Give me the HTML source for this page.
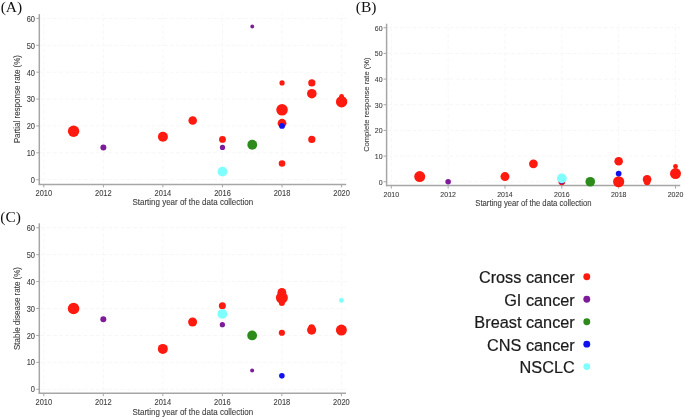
<!DOCTYPE html>
<html><head><meta charset="utf-8"><style>
html,body{margin:0;padding:0;background:#fff;}
body{width:685px;height:418px;overflow:hidden;}
svg{display:block;font-family:"Liberation Sans",sans-serif;filter:blur(0.3px);}
</style></head><body>
<svg width="685" height="418" viewBox="0 0 685 418">
<rect width="685" height="418" fill="#fff"/>
<line x1="40.40" y1="179.70" x2="346.20" y2="179.70" stroke="#f7f7f7" stroke-width="1" stroke-dasharray="4 2.17"/>
<line x1="40.40" y1="152.82" x2="346.20" y2="152.82" stroke="#f7f7f7" stroke-width="1" stroke-dasharray="4 2.17"/>
<line x1="40.40" y1="125.94" x2="346.20" y2="125.94" stroke="#f7f7f7" stroke-width="1" stroke-dasharray="4 2.17"/>
<line x1="40.40" y1="99.06" x2="346.20" y2="99.06" stroke="#f7f7f7" stroke-width="1" stroke-dasharray="4 2.17"/>
<line x1="40.40" y1="72.18" x2="346.20" y2="72.18" stroke="#f7f7f7" stroke-width="1" stroke-dasharray="4 2.17"/>
<line x1="40.40" y1="45.30" x2="346.20" y2="45.30" stroke="#f7f7f7" stroke-width="1" stroke-dasharray="4 2.17"/>
<line x1="40.40" y1="18.42" x2="346.20" y2="18.42" stroke="#f7f7f7" stroke-width="1" stroke-dasharray="4 2.17"/>
<line x1="43.80" y1="14.10" x2="43.80" y2="183.60" stroke="#f7f7f7" stroke-width="1" stroke-dasharray="3.8 2.35" stroke-dashoffset="2.4"/>
<line x1="103.36" y1="14.10" x2="103.36" y2="183.60" stroke="#f7f7f7" stroke-width="1" stroke-dasharray="3.8 2.35" stroke-dashoffset="2.4"/>
<line x1="162.92" y1="14.10" x2="162.92" y2="183.60" stroke="#f7f7f7" stroke-width="1" stroke-dasharray="3.8 2.35" stroke-dashoffset="2.4"/>
<line x1="222.48" y1="14.10" x2="222.48" y2="183.60" stroke="#f7f7f7" stroke-width="1" stroke-dasharray="3.8 2.35" stroke-dashoffset="2.4"/>
<line x1="282.04" y1="14.10" x2="282.04" y2="183.60" stroke="#f7f7f7" stroke-width="1" stroke-dasharray="3.8 2.35" stroke-dashoffset="2.4"/>
<line x1="341.60" y1="14.10" x2="341.60" y2="183.60" stroke="#f7f7f7" stroke-width="1" stroke-dasharray="3.8 2.35" stroke-dashoffset="2.4"/>
<line x1="39.30" y1="14.10" x2="39.30" y2="185.05" stroke="#a6a6a6" stroke-width="1.5"/>
<line x1="38.65" y1="184.40" x2="346.20" y2="184.40" stroke="#a6a6a6" stroke-width="1.5"/>
<line x1="36.30" y1="179.70" x2="39.30" y2="179.70" stroke="#a6a6a6" stroke-width="1"/>
<text transform="translate(35.00,183.10) scale(1,1.15)" text-anchor="end" font-size="7.5" fill="#3c3c3c" stroke="#3c3c3c" stroke-width="0.08">0</text>
<line x1="36.30" y1="152.82" x2="39.30" y2="152.82" stroke="#a6a6a6" stroke-width="1"/>
<text transform="translate(35.00,156.22) scale(1,1.15)" text-anchor="end" font-size="7.5" fill="#3c3c3c" stroke="#3c3c3c" stroke-width="0.08">10</text>
<line x1="36.30" y1="125.94" x2="39.30" y2="125.94" stroke="#a6a6a6" stroke-width="1"/>
<text transform="translate(35.00,129.34) scale(1,1.15)" text-anchor="end" font-size="7.5" fill="#3c3c3c" stroke="#3c3c3c" stroke-width="0.08">20</text>
<line x1="36.30" y1="99.06" x2="39.30" y2="99.06" stroke="#a6a6a6" stroke-width="1"/>
<text transform="translate(35.00,102.46) scale(1,1.15)" text-anchor="end" font-size="7.5" fill="#3c3c3c" stroke="#3c3c3c" stroke-width="0.08">30</text>
<line x1="36.30" y1="72.18" x2="39.30" y2="72.18" stroke="#a6a6a6" stroke-width="1"/>
<text transform="translate(35.00,75.58) scale(1,1.15)" text-anchor="end" font-size="7.5" fill="#3c3c3c" stroke="#3c3c3c" stroke-width="0.08">40</text>
<line x1="36.30" y1="45.30" x2="39.30" y2="45.30" stroke="#a6a6a6" stroke-width="1"/>
<text transform="translate(35.00,48.70) scale(1,1.15)" text-anchor="end" font-size="7.5" fill="#3c3c3c" stroke="#3c3c3c" stroke-width="0.08">50</text>
<line x1="36.30" y1="18.42" x2="39.30" y2="18.42" stroke="#a6a6a6" stroke-width="1"/>
<text transform="translate(35.00,21.82) scale(1,1.15)" text-anchor="end" font-size="7.5" fill="#3c3c3c" stroke="#3c3c3c" stroke-width="0.08">60</text>
<line x1="43.80" y1="184.40" x2="43.80" y2="187.40" stroke="#a6a6a6" stroke-width="1"/>
<text transform="translate(43.80,195.60) scale(1,1.15)" text-anchor="middle" font-size="7.5" fill="#3c3c3c" stroke="#3c3c3c" stroke-width="0.08">2010</text>
<line x1="103.36" y1="184.40" x2="103.36" y2="187.40" stroke="#a6a6a6" stroke-width="1"/>
<text transform="translate(103.36,195.60) scale(1,1.15)" text-anchor="middle" font-size="7.5" fill="#3c3c3c" stroke="#3c3c3c" stroke-width="0.08">2012</text>
<line x1="162.92" y1="184.40" x2="162.92" y2="187.40" stroke="#a6a6a6" stroke-width="1"/>
<text transform="translate(162.92,195.60) scale(1,1.15)" text-anchor="middle" font-size="7.5" fill="#3c3c3c" stroke="#3c3c3c" stroke-width="0.08">2014</text>
<line x1="222.48" y1="184.40" x2="222.48" y2="187.40" stroke="#a6a6a6" stroke-width="1"/>
<text transform="translate(222.48,195.60) scale(1,1.15)" text-anchor="middle" font-size="7.5" fill="#3c3c3c" stroke="#3c3c3c" stroke-width="0.08">2016</text>
<line x1="282.04" y1="184.40" x2="282.04" y2="187.40" stroke="#a6a6a6" stroke-width="1"/>
<text transform="translate(282.04,195.60) scale(1,1.15)" text-anchor="middle" font-size="7.5" fill="#3c3c3c" stroke="#3c3c3c" stroke-width="0.08">2018</text>
<line x1="341.60" y1="184.40" x2="341.60" y2="187.40" stroke="#a6a6a6" stroke-width="1"/>
<text transform="translate(341.60,195.60) scale(1,1.15)" text-anchor="middle" font-size="7.5" fill="#3c3c3c" stroke="#3c3c3c" stroke-width="0.08">2020</text>
<text transform="translate(192.80,205.40) scale(1,1.15)" text-anchor="middle" font-size="8" fill="#3c3c3c" stroke="#3c3c3c" stroke-width="0.08">Starting year of the data collection</text>
<text transform="translate(19.80,99.20) rotate(-90) scale(1,1.05)" text-anchor="middle" font-size="8" fill="#3c3c3c" stroke="#3c3c3c" stroke-width="0.08">Partial response rate (%)</text>
<text x="0.70" y="12.30" font-family="Liberation Serif, serif" font-size="15.5" fill="#111">(A)</text>
<circle cx="73.58" cy="131.32" r="5.7" fill="#ff1a10"/>
<circle cx="162.92" cy="136.69" r="5" fill="#ff1a10"/>
<circle cx="192.70" cy="120.56" r="4.3" fill="#ff1a10"/>
<circle cx="222.48" cy="139.38" r="3.4" fill="#ff1a10"/>
<circle cx="282.04" cy="82.93" r="2.6" fill="#ff1a10"/>
<circle cx="282.04" cy="109.81" r="5.8" fill="#ff1a10"/>
<circle cx="282.04" cy="123.25" r="4.4" fill="#ff1a10"/>
<circle cx="282.04" cy="163.57" r="3.3" fill="#ff1a10"/>
<circle cx="311.82" cy="82.93" r="3.6" fill="#ff1a10"/>
<circle cx="311.82" cy="93.68" r="4.8" fill="#ff1a10"/>
<circle cx="311.82" cy="139.38" r="3.6" fill="#ff1a10"/>
<circle cx="341.60" cy="96.37" r="2.4" fill="#ff1a10"/>
<circle cx="341.60" cy="101.75" r="5.7" fill="#ff1a10"/>
<circle cx="103.36" cy="147.44" r="3" fill="#7e1b99"/>
<circle cx="222.48" cy="147.44" r="2.6" fill="#7e1b99"/>
<circle cx="252.26" cy="26.48" r="1.9" fill="#7e1b99"/>
<circle cx="252.26" cy="144.76" r="4.9" fill="#2d8b1c"/>
<circle cx="282.04" cy="125.94" r="2.9" fill="#1010f0"/>
<circle cx="222.48" cy="171.64" r="4.9" fill="#80ffff"/>
<line x1="387.70" y1="181.75" x2="680.20" y2="181.75" stroke="#f7f7f7" stroke-width="1" stroke-dasharray="4 2.17"/>
<line x1="387.70" y1="156.08" x2="680.20" y2="156.08" stroke="#f7f7f7" stroke-width="1" stroke-dasharray="4 2.17"/>
<line x1="387.70" y1="130.41" x2="680.20" y2="130.41" stroke="#f7f7f7" stroke-width="1" stroke-dasharray="4 2.17"/>
<line x1="387.70" y1="104.74" x2="680.20" y2="104.74" stroke="#f7f7f7" stroke-width="1" stroke-dasharray="4 2.17"/>
<line x1="387.70" y1="79.07" x2="680.20" y2="79.07" stroke="#f7f7f7" stroke-width="1" stroke-dasharray="4 2.17"/>
<line x1="387.70" y1="53.40" x2="680.20" y2="53.40" stroke="#f7f7f7" stroke-width="1" stroke-dasharray="4 2.17"/>
<line x1="387.70" y1="27.73" x2="680.20" y2="27.73" stroke="#f7f7f7" stroke-width="1" stroke-dasharray="4 2.17"/>
<line x1="391.30" y1="23.70" x2="391.30" y2="184.80" stroke="#f7f7f7" stroke-width="1" stroke-dasharray="3.8 2.35" stroke-dashoffset="2.4"/>
<line x1="448.14" y1="23.70" x2="448.14" y2="184.80" stroke="#f7f7f7" stroke-width="1" stroke-dasharray="3.8 2.35" stroke-dashoffset="2.4"/>
<line x1="504.98" y1="23.70" x2="504.98" y2="184.80" stroke="#f7f7f7" stroke-width="1" stroke-dasharray="3.8 2.35" stroke-dashoffset="2.4"/>
<line x1="561.82" y1="23.70" x2="561.82" y2="184.80" stroke="#f7f7f7" stroke-width="1" stroke-dasharray="3.8 2.35" stroke-dashoffset="2.4"/>
<line x1="618.66" y1="23.70" x2="618.66" y2="184.80" stroke="#f7f7f7" stroke-width="1" stroke-dasharray="3.8 2.35" stroke-dashoffset="2.4"/>
<line x1="675.50" y1="23.70" x2="675.50" y2="184.80" stroke="#f7f7f7" stroke-width="1" stroke-dasharray="3.8 2.35" stroke-dashoffset="2.4"/>
<line x1="386.60" y1="23.70" x2="386.60" y2="186.25" stroke="#a6a6a6" stroke-width="1.5"/>
<line x1="385.95" y1="185.60" x2="680.20" y2="185.60" stroke="#a6a6a6" stroke-width="1.5"/>
<line x1="383.60" y1="181.75" x2="386.60" y2="181.75" stroke="#a6a6a6" stroke-width="1"/>
<text transform="translate(382.60,184.55) scale(1,1.15)" text-anchor="end" font-size="7.0" fill="#3c3c3c" stroke="#3c3c3c" stroke-width="0.08">0</text>
<line x1="383.60" y1="156.08" x2="386.60" y2="156.08" stroke="#a6a6a6" stroke-width="1"/>
<text transform="translate(382.60,158.88) scale(1,1.15)" text-anchor="end" font-size="7.0" fill="#3c3c3c" stroke="#3c3c3c" stroke-width="0.08">10</text>
<line x1="383.60" y1="130.41" x2="386.60" y2="130.41" stroke="#a6a6a6" stroke-width="1"/>
<text transform="translate(382.60,133.21) scale(1,1.15)" text-anchor="end" font-size="7.0" fill="#3c3c3c" stroke="#3c3c3c" stroke-width="0.08">20</text>
<line x1="383.60" y1="104.74" x2="386.60" y2="104.74" stroke="#a6a6a6" stroke-width="1"/>
<text transform="translate(382.60,107.54) scale(1,1.15)" text-anchor="end" font-size="7.0" fill="#3c3c3c" stroke="#3c3c3c" stroke-width="0.08">30</text>
<line x1="383.60" y1="79.07" x2="386.60" y2="79.07" stroke="#a6a6a6" stroke-width="1"/>
<text transform="translate(382.60,81.87) scale(1,1.15)" text-anchor="end" font-size="7.0" fill="#3c3c3c" stroke="#3c3c3c" stroke-width="0.08">40</text>
<line x1="383.60" y1="53.40" x2="386.60" y2="53.40" stroke="#a6a6a6" stroke-width="1"/>
<text transform="translate(382.60,56.20) scale(1,1.15)" text-anchor="end" font-size="7.0" fill="#3c3c3c" stroke="#3c3c3c" stroke-width="0.08">50</text>
<line x1="383.60" y1="27.73" x2="386.60" y2="27.73" stroke="#a6a6a6" stroke-width="1"/>
<text transform="translate(382.60,30.53) scale(1,1.15)" text-anchor="end" font-size="7.0" fill="#3c3c3c" stroke="#3c3c3c" stroke-width="0.08">60</text>
<line x1="391.30" y1="185.60" x2="391.30" y2="188.60" stroke="#a6a6a6" stroke-width="1"/>
<text transform="translate(391.30,196.60) scale(1,1.15)" text-anchor="middle" font-size="7.0" fill="#3c3c3c" stroke="#3c3c3c" stroke-width="0.08">2010</text>
<line x1="448.14" y1="185.60" x2="448.14" y2="188.60" stroke="#a6a6a6" stroke-width="1"/>
<text transform="translate(448.14,196.60) scale(1,1.15)" text-anchor="middle" font-size="7.0" fill="#3c3c3c" stroke="#3c3c3c" stroke-width="0.08">2012</text>
<line x1="504.98" y1="185.60" x2="504.98" y2="188.60" stroke="#a6a6a6" stroke-width="1"/>
<text transform="translate(504.98,196.60) scale(1,1.15)" text-anchor="middle" font-size="7.0" fill="#3c3c3c" stroke="#3c3c3c" stroke-width="0.08">2014</text>
<line x1="561.82" y1="185.60" x2="561.82" y2="188.60" stroke="#a6a6a6" stroke-width="1"/>
<text transform="translate(561.82,196.60) scale(1,1.15)" text-anchor="middle" font-size="7.0" fill="#3c3c3c" stroke="#3c3c3c" stroke-width="0.08">2016</text>
<line x1="618.66" y1="185.60" x2="618.66" y2="188.60" stroke="#a6a6a6" stroke-width="1"/>
<text transform="translate(618.66,196.60) scale(1,1.15)" text-anchor="middle" font-size="7.0" fill="#3c3c3c" stroke="#3c3c3c" stroke-width="0.08">2018</text>
<line x1="675.50" y1="185.60" x2="675.50" y2="188.60" stroke="#a6a6a6" stroke-width="1"/>
<text transform="translate(675.50,196.60) scale(1,1.15)" text-anchor="middle" font-size="7.0" fill="#3c3c3c" stroke="#3c3c3c" stroke-width="0.08">2020</text>
<text transform="translate(533.40,206.20) scale(1,1.15)" text-anchor="middle" font-size="7.7" fill="#3c3c3c" stroke="#3c3c3c" stroke-width="0.08">Starting year of the data collection</text>
<text transform="translate(368.90,104.70) rotate(-90) scale(1,1.05)" text-anchor="middle" font-size="7.55" fill="#3c3c3c" stroke="#3c3c3c" stroke-width="0.08">Complete response rate (%)</text>
<text x="355.80" y="12.45" font-family="Liberation Serif, serif" font-size="15.5" fill="#111">(B)</text>
<circle cx="419.72" cy="176.62" r="5.5" fill="#ff1a10"/>
<circle cx="504.98" cy="176.62" r="4.5" fill="#ff1a10"/>
<circle cx="533.40" cy="163.78" r="4.4" fill="#ff1a10"/>
<circle cx="561.82" cy="181.75" r="3.4" fill="#ff1a10"/>
<circle cx="618.66" cy="161.21" r="4.3" fill="#ff1a10"/>
<circle cx="618.66" cy="181.75" r="5.6" fill="#ff1a10"/>
<circle cx="647.08" cy="179.18" r="4.3" fill="#ff1a10"/>
<circle cx="647.08" cy="181.75" r="3.4" fill="#ff1a10"/>
<circle cx="675.50" cy="166.35" r="2.4" fill="#ff1a10"/>
<circle cx="675.50" cy="173.54" r="5.5" fill="#ff1a10"/>
<circle cx="448.14" cy="181.75" r="2.8" fill="#7e1b99"/>
<circle cx="561.82" cy="181.75" r="2.6" fill="#7e1b99"/>
<circle cx="590.24" cy="181.75" r="4.8" fill="#2d8b1c"/>
<circle cx="618.66" cy="173.54" r="2.9" fill="#1010f0"/>
<circle cx="561.82" cy="178.41" r="4.9" fill="#80ffff"/>
<line x1="40.40" y1="389.30" x2="346.00" y2="389.30" stroke="#f7f7f7" stroke-width="1" stroke-dasharray="4 2.17"/>
<line x1="40.40" y1="362.37" x2="346.00" y2="362.37" stroke="#f7f7f7" stroke-width="1" stroke-dasharray="4 2.17"/>
<line x1="40.40" y1="335.44" x2="346.00" y2="335.44" stroke="#f7f7f7" stroke-width="1" stroke-dasharray="4 2.17"/>
<line x1="40.40" y1="308.51" x2="346.00" y2="308.51" stroke="#f7f7f7" stroke-width="1" stroke-dasharray="4 2.17"/>
<line x1="40.40" y1="281.58" x2="346.00" y2="281.58" stroke="#f7f7f7" stroke-width="1" stroke-dasharray="4 2.17"/>
<line x1="40.40" y1="254.65" x2="346.00" y2="254.65" stroke="#f7f7f7" stroke-width="1" stroke-dasharray="4 2.17"/>
<line x1="40.40" y1="227.72" x2="346.00" y2="227.72" stroke="#f7f7f7" stroke-width="1" stroke-dasharray="4 2.17"/>
<line x1="43.80" y1="223.30" x2="43.80" y2="392.40" stroke="#f7f7f7" stroke-width="1" stroke-dasharray="3.8 2.35" stroke-dashoffset="2.4"/>
<line x1="103.32" y1="223.30" x2="103.32" y2="392.40" stroke="#f7f7f7" stroke-width="1" stroke-dasharray="3.8 2.35" stroke-dashoffset="2.4"/>
<line x1="162.84" y1="223.30" x2="162.84" y2="392.40" stroke="#f7f7f7" stroke-width="1" stroke-dasharray="3.8 2.35" stroke-dashoffset="2.4"/>
<line x1="222.36" y1="223.30" x2="222.36" y2="392.40" stroke="#f7f7f7" stroke-width="1" stroke-dasharray="3.8 2.35" stroke-dashoffset="2.4"/>
<line x1="281.88" y1="223.30" x2="281.88" y2="392.40" stroke="#f7f7f7" stroke-width="1" stroke-dasharray="3.8 2.35" stroke-dashoffset="2.4"/>
<line x1="341.40" y1="223.30" x2="341.40" y2="392.40" stroke="#f7f7f7" stroke-width="1" stroke-dasharray="3.8 2.35" stroke-dashoffset="2.4"/>
<line x1="39.30" y1="223.30" x2="39.30" y2="393.85" stroke="#a6a6a6" stroke-width="1.5"/>
<line x1="38.65" y1="393.20" x2="346.00" y2="393.20" stroke="#a6a6a6" stroke-width="1.5"/>
<line x1="36.30" y1="389.30" x2="39.30" y2="389.30" stroke="#a6a6a6" stroke-width="1"/>
<text transform="translate(35.00,392.41) scale(1,1.15)" text-anchor="end" font-size="7.5" fill="#3c3c3c" stroke="#3c3c3c" stroke-width="0.08">0</text>
<line x1="36.30" y1="362.37" x2="39.30" y2="362.37" stroke="#a6a6a6" stroke-width="1"/>
<text transform="translate(35.00,365.48) scale(1,1.15)" text-anchor="end" font-size="7.5" fill="#3c3c3c" stroke="#3c3c3c" stroke-width="0.08">10</text>
<line x1="36.30" y1="335.44" x2="39.30" y2="335.44" stroke="#a6a6a6" stroke-width="1"/>
<text transform="translate(35.00,338.55) scale(1,1.15)" text-anchor="end" font-size="7.5" fill="#3c3c3c" stroke="#3c3c3c" stroke-width="0.08">20</text>
<line x1="36.30" y1="308.51" x2="39.30" y2="308.51" stroke="#a6a6a6" stroke-width="1"/>
<text transform="translate(35.00,311.62) scale(1,1.15)" text-anchor="end" font-size="7.5" fill="#3c3c3c" stroke="#3c3c3c" stroke-width="0.08">30</text>
<line x1="36.30" y1="281.58" x2="39.30" y2="281.58" stroke="#a6a6a6" stroke-width="1"/>
<text transform="translate(35.00,284.69) scale(1,1.15)" text-anchor="end" font-size="7.5" fill="#3c3c3c" stroke="#3c3c3c" stroke-width="0.08">40</text>
<line x1="36.30" y1="254.65" x2="39.30" y2="254.65" stroke="#a6a6a6" stroke-width="1"/>
<text transform="translate(35.00,257.75) scale(1,1.15)" text-anchor="end" font-size="7.5" fill="#3c3c3c" stroke="#3c3c3c" stroke-width="0.08">50</text>
<line x1="36.30" y1="227.72" x2="39.30" y2="227.72" stroke="#a6a6a6" stroke-width="1"/>
<text transform="translate(35.00,230.82) scale(1,1.15)" text-anchor="end" font-size="7.5" fill="#3c3c3c" stroke="#3c3c3c" stroke-width="0.08">60</text>
<line x1="43.80" y1="393.20" x2="43.80" y2="396.20" stroke="#a6a6a6" stroke-width="1"/>
<text transform="translate(43.80,404.90) scale(1,1.15)" text-anchor="middle" font-size="7.5" fill="#3c3c3c" stroke="#3c3c3c" stroke-width="0.08">2010</text>
<line x1="103.32" y1="393.20" x2="103.32" y2="396.20" stroke="#a6a6a6" stroke-width="1"/>
<text transform="translate(103.32,404.90) scale(1,1.15)" text-anchor="middle" font-size="7.5" fill="#3c3c3c" stroke="#3c3c3c" stroke-width="0.08">2012</text>
<line x1="162.84" y1="393.20" x2="162.84" y2="396.20" stroke="#a6a6a6" stroke-width="1"/>
<text transform="translate(162.84,404.90) scale(1,1.15)" text-anchor="middle" font-size="7.5" fill="#3c3c3c" stroke="#3c3c3c" stroke-width="0.08">2014</text>
<line x1="222.36" y1="393.20" x2="222.36" y2="396.20" stroke="#a6a6a6" stroke-width="1"/>
<text transform="translate(222.36,404.90) scale(1,1.15)" text-anchor="middle" font-size="7.5" fill="#3c3c3c" stroke="#3c3c3c" stroke-width="0.08">2016</text>
<line x1="281.88" y1="393.20" x2="281.88" y2="396.20" stroke="#a6a6a6" stroke-width="1"/>
<text transform="translate(281.88,404.90) scale(1,1.15)" text-anchor="middle" font-size="7.5" fill="#3c3c3c" stroke="#3c3c3c" stroke-width="0.08">2018</text>
<line x1="341.40" y1="393.20" x2="341.40" y2="396.20" stroke="#a6a6a6" stroke-width="1"/>
<text transform="translate(341.40,404.90) scale(1,1.15)" text-anchor="middle" font-size="7.5" fill="#3c3c3c" stroke="#3c3c3c" stroke-width="0.08">2020</text>
<text transform="translate(192.80,415.30) scale(1,1.15)" text-anchor="middle" font-size="8" fill="#3c3c3c" stroke="#3c3c3c" stroke-width="0.08">Starting year of the data collection</text>
<text transform="translate(19.70,308.50) rotate(-90) scale(1,1.05)" text-anchor="middle" font-size="8" fill="#3c3c3c" stroke="#3c3c3c" stroke-width="0.08">Stable disease rate (%)</text>
<text x="0.30" y="221.80" font-family="Liberation Serif, serif" font-size="15.5" fill="#111">(C)</text>
<circle cx="73.56" cy="308.51" r="5.8" fill="#ff1a10"/>
<circle cx="162.84" cy="348.91" r="5" fill="#ff1a10"/>
<circle cx="192.60" cy="321.98" r="4.5" fill="#ff1a10"/>
<circle cx="222.36" cy="305.82" r="3.5" fill="#ff1a10"/>
<circle cx="281.88" cy="297.74" r="6" fill="#ff1a10"/>
<circle cx="281.88" cy="292.35" r="4.4" fill="#ff1a10"/>
<circle cx="281.88" cy="303.12" r="3" fill="#ff1a10"/>
<circle cx="281.88" cy="332.75" r="3.1" fill="#ff1a10"/>
<circle cx="311.64" cy="330.05" r="4.6" fill="#ff1a10"/>
<circle cx="311.64" cy="327.36" r="3.2" fill="#ff1a10"/>
<circle cx="341.40" cy="330.05" r="5.5" fill="#ff1a10"/>
<circle cx="103.32" cy="319.28" r="3" fill="#7e1b99"/>
<circle cx="222.36" cy="324.67" r="2.6" fill="#7e1b99"/>
<circle cx="252.12" cy="370.45" r="2" fill="#7e1b99"/>
<circle cx="252.12" cy="335.44" r="4.9" fill="#2d8b1c"/>
<circle cx="281.88" cy="375.84" r="2.8" fill="#1010f0"/>
<circle cx="222.36" cy="313.90" r="4.9" fill="#80ffff"/>
<circle cx="341.40" cy="300.43" r="2.4" fill="#80ffff"/>
<text x="574.8" y="283.40" text-anchor="end" font-size="16.3" fill="#1a1a1a" stroke="#1a1a1a" stroke-width="0.2">Cross cancer</text>
<circle cx="586.8" cy="276.80" r="3.45" fill="#ff1a10"/>
<text x="574.8" y="305.85" text-anchor="end" font-size="16.3" fill="#1a1a1a" stroke="#1a1a1a" stroke-width="0.2">GI cancer</text>
<circle cx="586.8" cy="299.25" r="3.45" fill="#7e1b99"/>
<text x="574.8" y="328.30" text-anchor="end" font-size="16.3" fill="#1a1a1a" stroke="#1a1a1a" stroke-width="0.2">Breast cancer</text>
<circle cx="586.8" cy="321.70" r="3.45" fill="#2d8b1c"/>
<text x="574.8" y="350.75" text-anchor="end" font-size="16.3" fill="#1a1a1a" stroke="#1a1a1a" stroke-width="0.2">CNS cancer</text>
<circle cx="586.8" cy="344.15" r="3.45" fill="#1010f0"/>
<text x="574.8" y="373.20" text-anchor="end" font-size="16.3" fill="#1a1a1a" stroke="#1a1a1a" stroke-width="0.2">NSCLC</text>
<circle cx="586.8" cy="366.60" r="3.45" fill="#80ffff"/>
</svg>
</body></html>
